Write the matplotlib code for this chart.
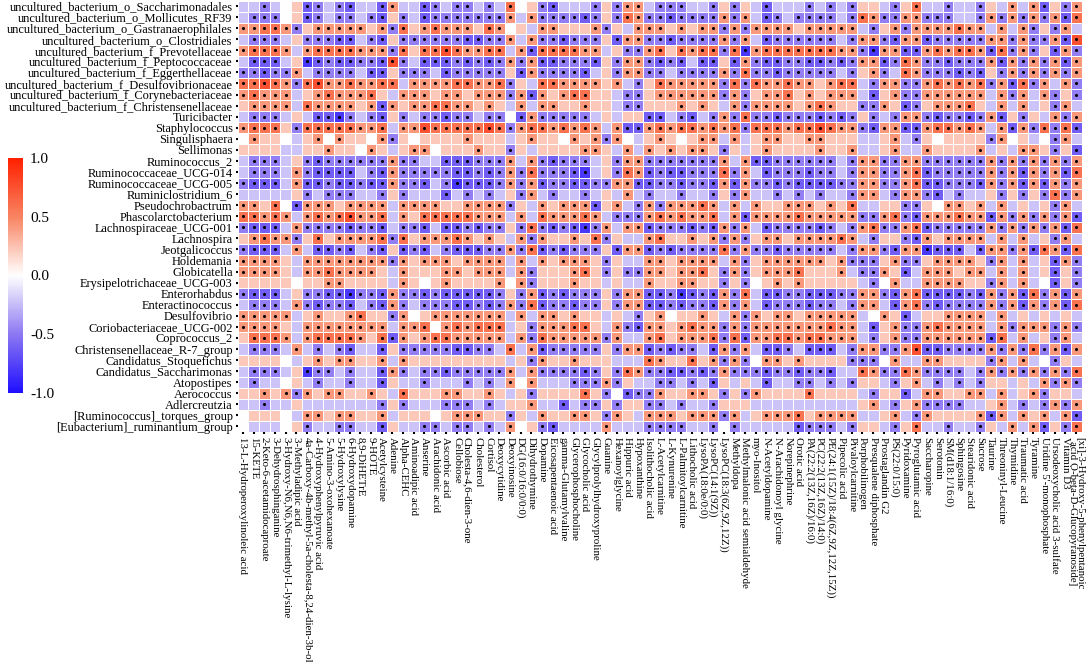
"""Genus x metabolite correlation heatmap."""

import matplotlib

matplotlib.use("Agg")
import matplotlib.pyplot as plt
import numpy as np
from matplotlib.colors import LinearSegmentedColormap

GENERA = [
    "uncultured_bacterium_o_Saccharimonadales",
    "uncultured_bacterium_o_Mollicutes_RF39",
    "uncultured_bacterium_o_Gastranaerophilales",
    "uncultured_bacterium_o_Clostridiales",
    "uncultured_bacterium_f_Prevotellaceae",
    "uncultured_bacterium_f_Peptococcaceae",
    "uncultured_bacterium_f_Eggerthellaceae",
    "uncultured_bacterium_f_Desulfovibrionaceae",
    "uncultured_bacterium_f_Corynebacteriaceae",
    "uncultured_bacterium_f_Christensenellaceae",
    "Turicibacter",
    "Staphylococcus",
    "Singulisphaera",
    "Sellimonas",
    "Ruminococcus_2",
    "Ruminococcaceae_UCG-014",
    "Ruminococcaceae_UCG-005",
    "Ruminiclostridium_6",
    "Pseudochrobactrum",
    "Phascolarctobacterium",
    "Lachnospiraceae_UCG-001",
    "Lachnospira",
    "Jeotgalicoccus",
    "Holdemania",
    "Globicatella",
    "Erysipelotrichaceae_UCG-003",
    "Enterorhabdus",
    "Enteractinococcus",
    "Desulfovibrio",
    "Coriobacteriaceae_UCG-002",
    "Coprococcus_2",
    "Christensenellaceae_R-7_group",
    "Candidatus_Stoquefichus",
    "Candidatus_Saccharimonas",
    "Atopostipes",
    "Aerococcus",
    "Adlercreutzia",
    "[Ruminococcus]_torques_group",
    "[Eubacterium]_ruminantium_group",
]

METABOLITES = [
    "13-L-Hydroperoxylinoleic acid", "15-KETE", "2-Keto-6-acetamidocaproate",
    "3-Dehydrosphinganine", "3-Hydroxy-N6,N6,N6-trimethyl-L-lysine",
    "3-Methyladipic acid", "4a-Carboxy-4b-methyl-5a-cholesta-8,24-dien-3b-ol",
    "4-Hydroxyphenylpyruvic acid", "5-Amino-3-oxohexanoate", "5-Hydroxylysine",
    "6-Hydroxydopamine", "8,9-DiHETrE", "9-HOTE", "Acetylcysteine", "Adenine",
    "Alpha-CEHC", "Aminoadipic acid", "Anserine", "Arachidonic acid",
    "Ascorbic acid", "Cellobiose", "Cholesta-4,6-dien-3-one", "Cholesterol",
    "Cortisol", "Deoxycytidine", "Deoxyinosine", "DG(16:0/16:0/0:0)",
    "Dihydrothymine", "Dopamine", "Eicosapentaenoic acid",
    "gamma-Glutamylvaline", "Glycerophosphocholine", "Glycocholic acid",
    "Glycylprolylhydroxyproline", "Guanine", "Hexanoylglycine", "Hippuric acid",
    "Hypoxanthine", "Isolithocholic acid", "L-Acetylcarnitine", "L-Kynurenine",
    "L-Palmitoylcarnitine", "Lithocholic acid", "LysoPA(18:0e/0:0)",
    "LysoPC(14:1(9Z))", "LysoPC(18:3(6Z,9Z,12Z))", "Methyldopa",
    "Methylmalonic acid semialdehyde", "myo-Inositol", "N-Acetyldopamine",
    "N-Arachidonoyl glycine", "Norepinephrine", "Orotic acid",
    "PA(22:2(13Z,16Z)/16:0)", "PC(22:2(13Z,16Z)/14:0)",
    "PE(24:1(15Z)/18:4(6Z,9Z,12Z,15Z))", "Pipecolic acid", "Pivaloylcarnitine",
    "Porphobilinogen", "Presqualene diphosphate", "Prostaglandin G2",
    "PS(22:0/15:0)", "Pyridoxamine", "Pyroglutamic acid", "Saccharopine",
    "Serotonin", "SM(d18:1/16:0)", "Sphingosine", "Stearidonic acid", "Sucrose",
    "Taurine", "Threoninyl-Leucine", "Thymidine", "Traumatic acid", "Tyramine",
    "Uridine 5'-monophosphate", "Ursodeoxycholic acid 3-sulfate", "Vitamin D3",
    "[xi]-3-Hydroxy-5-phenylpentanoic\nacid O-beta-D-Glucopyranoside]",
]

# one character per cell (1 = strong negative ... 5 = ~0 ... 9 = strong positive)
# blocks of metabolites: 0-19 | 20-39 | 40-59 | 60-78
CELLS = [
    "44345623432442744234 33434856324443637743 33443636424443434366 4368443443647472637",
    "43335623433432634233 33333747333323638733 23333737423433334387 3377333443737373728",
    "77887367777767386787 77687564776667364777 67677373777767777743 6737777877474736374",
    "43334633322432633333 32233747332333627733 23333737423333334377 3277233333773733729",
    "78887478888777386889 87788472888877463378 68788381788888887731 7722787887283736273",
    "42224612322332934222 32323737223332637732 32422627322332232377 2387332333727373727",
    "33233743333422633342 33333627333324637733 43333738332333334367 3487333232637373737",
    "88987389778778847777 88778364887777674368 77777383877877678843 7733787878372837473",
    "78777467877786477767 76777372767886643367 77777373677867677742 6733777777473747363",
    "67777487777672767788 77676474776676643366 67676473777767876633 7623677786474746374",
    "43334642213432634332 33433527333334646622 43243738332333232363 4377323323726364737",
    "78886388888778477988 88898378878787472278 78878783888788987732 7722788787472738382",
    "57665467576657365666 67666467665767375467 65677474677667766644 6743656666375645374",
    "66664466766576467756 66766364666677647476 76776364676666766744 6744766667464776362",
    "43334632333333733442 22333747323334637733 33333747223333334377 3377333333737373737",
    "43334732222432733333 22323738333214638723 22333837423332334377 3378233333737273728",
    "32224722322322733243 12223737233223377223 32332727332322223377 3378223332737272737",
    "44444634333443634442 43434637434434647434 43443637443434344377 4377324344636363837",
    "77685277767777477776 67777364767772674373 77787474766777676844 6633657767474646374",
    "88787478789778476888 88777474877787433378 78778472777787777733 7832777877273737372",
    "32224733332332433242 23233638323213747723 33232737423333234378 3378233333737373728",
    "67877368677778386777 87676473766768364478 66767373677677778743 6632767777474746374",
    "32224742232432623243 22233738232333627723 23333837332333334377 3277122242773728728",
    "77776477777777376777 67777474767776364477 67777473677777767333 6733677776374746273",
    "77776477877776476667 76777473666786363377 67786373677786667433 7624777677474746263",
    "66666566776666476567 66667573666766464476 67766363567676666643 5744777766374745263",
    "32224633221332733232 22223637232333637722 31232738422332223377 3278222232737283727",
    "43334732332432734333 22323738233233637722 32332737423332334377 4278323333737273728",
    "77777467667866375677 77777474776766464367 56676473767767777745 7624667777474646464",
    "77776477777777477857 87888463777886473277 67877373777777787742 6733787777473777373",
    "68887478888768276788 77777473877777374478 67778382778878877743 6733777777284746374",
    "43334743432442633333 22334847233333637723 23342737422342224377 3379223333737383727",
    "66665467677667476666 66666463766766644487 66867373577676666333 5744776666374745364",
    "43334613343442734332 33333747333323638733 22323733323323324487 3387333343737373738",
    "43445643443442644344 43434757444333736443 34342646424433434366 4367434343664647373",
    "66767376776676486667 76676463666686352337 66776363766668666643 6624776677474673664",
    "44344644444443634443 33434667442433636633 43443666444444444467 4367333344674343737",
    "56665477677667466656 77766364766776376477 76777374677786777744 6743766667274767472",
    "54445634433442644334 33434756324444744433 33443534444423334366 4368443443647472638",
]

LEVELS = {"1": -0.8, "2": -0.62, "3": -0.47, "4": -0.22, "5": 0.0,
          "6": 0.22, "7": 0.42, "8": 0.58, "9": 0.75}

corr = np.array([[LEVELS[ch] for ch in row.replace(" ", "")] for row in CELLS])
if corr.shape != (len(GENERA), len(METABOLITES)):
    raise ValueError(f"cell matrix has shape {corr.shape}")
significant = np.abs(corr) >= 0.4

plt.rcParams["font.family"] = ["Liberation Serif", "DejaVu Serif"]

W, H = 1086, 662
fig = plt.figure(figsize=(W / 100, H / 100), dpi=100)
ax = fig.add_axes([237.5 / W, 1 - 432 / H, 844 / W, 431.5 / H])

cmap = LinearSegmentedColormap.from_list(
    "bwr_custom", ["#1f0fff", "#8d78f2", "#ffffff", "#f88462", "#ff2000"]
)
mesh = ax.pcolormesh(corr, cmap=cmap, vmin=-1, vmax=1,
                     edgecolors="white", linewidth=0.6)

rows, cols = np.nonzero(significant)
ax.scatter(cols + 0.5, rows + 0.5, s=5, c="black", linewidths=0)

ax.set_xlim(0, len(METABOLITES))
ax.set_ylim(len(GENERA), 0)
ax.set_xticks(np.arange(len(METABOLITES)) + 0.5)
ax.set_xticklabels(METABOLITES, rotation=270, fontsize=7.8,
                   ha="center", va="top", linespacing=0.75)
ax.set_yticks(np.arange(len(GENERA)) + 0.5)
ax.set_yticklabels(GENERA, fontsize=8.9)
ax.tick_params(length=1.5, width=1.5, pad=2)
for spine in ax.spines.values():
    spine.set_visible(False)

cax = fig.add_axes([8 / W, 1 - 393 / H, 15 / W, 235 / H])
cbar = fig.colorbar(mesh, cax=cax, ticks=[-1, -0.5, 0, 0.5, 1])
cbar.ax.set_yticklabels(["-1.0", "-0.5", "0.0", "0.5", "1.0"], fontsize=11)
cbar.ax.tick_params(length=0, pad=5)
cbar.outline.set_visible(False)

fig.savefig("out.png", dpi=100)
